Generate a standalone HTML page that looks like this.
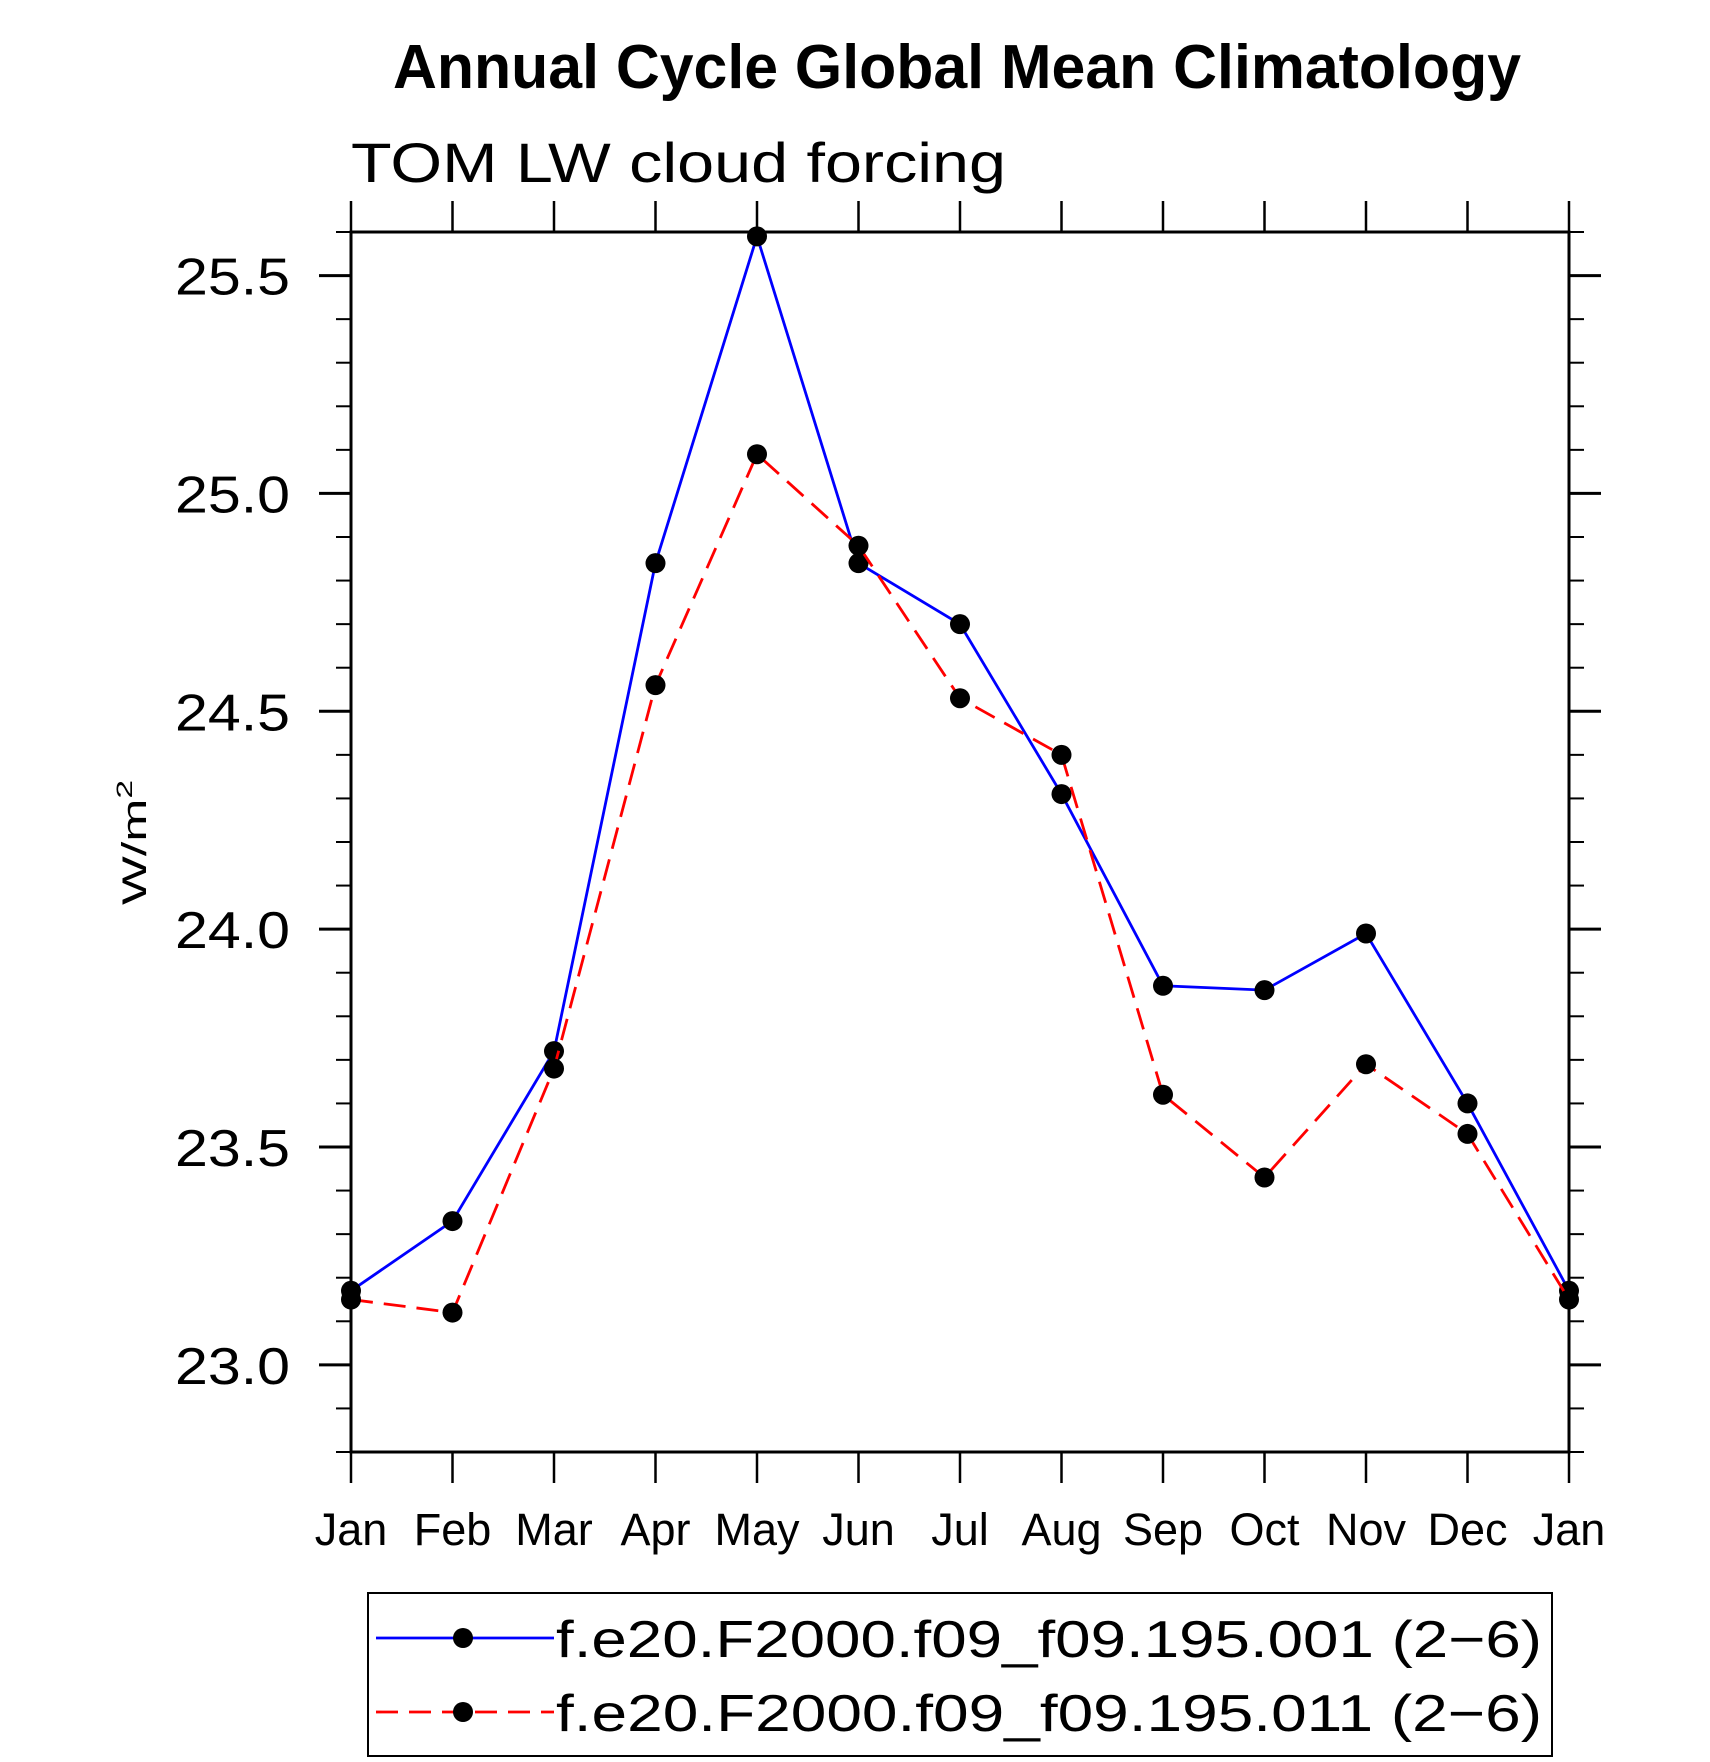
<!DOCTYPE html>
<html><head><meta charset="utf-8"><style>
html,body{margin:0;padding:0;background:#fff;}
svg{display:block;font-family:"Liberation Sans",sans-serif;}
</style></head><body>
<svg id="chart" width="1710" height="1762" viewBox="0 0 1710 1762">
<text x="393" y="88" font-size="62" font-weight="bold" textLength="1128" lengthAdjust="spacingAndGlyphs">Annual Cycle Global Mean Climatology</text>
<text x="351" y="182" font-size="56" textLength="655" lengthAdjust="spacingAndGlyphs">TOM LW cloud forcing</text>
<text transform="translate(146,905) rotate(-90)" font-size="34" textLength="125" lengthAdjust="spacingAndGlyphs">W/m<tspan font-size="22" dy="-14">2</tspan></text>
<g id="axes"></g>
<g id="series"></g>
<rect x="368" y="1593" width="1184" height="163" fill="none" stroke="#000" stroke-width="2"/>
<g id="legend"></g>
</svg>
<script>
const months = ["Jan","Feb","Mar","Apr","May","Jun","Jul","Aug","Sep","Oct","Nov","Dec","Jan"];
const seriesA = [23.17,23.33,23.72,24.84,25.59,24.84,24.70,24.31,23.87,23.86,23.99,23.60,23.17];
const seriesB = [23.15,23.12,23.68,24.56,25.09,24.88,24.53,24.40,23.62,23.43,23.69,23.53,23.15];
const yTicks = [23.0,23.5,24.0,24.5,25.0,25.5];
const yTickLabels = ["23.0","23.5","24.0","24.5","25.0","25.5"];
const seriesNames = ["f.e20.F2000.f09_f09.195.001 (2\u22126)","f.e20.F2000.f09_f09.195.011 (2\u22126)"];

const NS="http://www.w3.org/2000/svg";
const L=351,R=1569,T=232,B=1452,YMIN=22.8,YMAX=25.6;
const x=i=>L+(R-L)*i/(months.length-1);
const y=v=>B-(B-T)*(v-YMIN)/(YMAX-YMIN);
function mk(tag,attrs,parent){const e=document.createElementNS(NS,tag);for(const k in attrs)e.setAttribute(k,attrs[k]);parent.appendChild(e);return e;}
const ax=document.getElementById('axes');
const frame=mk('rect',{x:L,y:T,width:R-L,height:B-T,fill:'none',stroke:'#000','stroke-width':3},ax);


months.forEach((m,i)=>{
  const t1=mk('line',{x1:x(i),x2:x(i),y1:B,y2:B+31,stroke:'#000','stroke-width':2.5},ax);
  
  
  const t2=mk('line',{x1:x(i),x2:x(i),y1:T-31,y2:T,stroke:'#000','stroke-width':2.5},ax);
  
  
  const tx=mk('text',{x:x(i),y:1545,'font-size':45,'text-anchor':'middle'},ax);
  tx.textContent=m;
  
  
});
for(let k=0;k<=28;k++){
  const v=YMIN+k*0.1, major=(k%5===2);
  const len=major?32:15;
  const a=mk('line',{x1:L-len,x2:L,y1:y(v),y2:y(v),stroke:'#000','stroke-width':major?3:2},ax);
  
  
  const b=mk('line',{x1:R,x2:R+len,y1:y(v),y2:y(v),stroke:'#000','stroke-width':major?3:2},ax);
  
  
}
yTicks.forEach((v,i)=>{
  const tx=mk('text',{x:290,y:y(v)+19,'font-size':52,'text-anchor':'end',textLength:115,lengthAdjust:'spacingAndGlyphs'},ax);
  tx.textContent=yTickLabels[i];
  
  
});
const sg=document.getElementById('series');
[[seriesA,'#0000ff',null,'series-001'],[seriesB,'#ff0000','22 11','series-011']].forEach(([d,c,dash,nm])=>{
  const p=mk('polyline',{points:d.map((v,i)=>x(i)+','+y(v)).join(' '),fill:'none',stroke:c,'stroke-width':2.8},sg);
  if(dash)p.setAttribute('stroke-dasharray',dash);
  
  
  d.forEach((v,i)=>{
    const cc=mk('circle',{cx:x(i),cy:y(v),r:10,fill:'#000'},sg);
    
    
  });
});
const lg=document.getElementById('legend');
[[1638,'#0000ff',null],[1712,'#ff0000','22 11']].forEach(([yy,c,dash],i)=>{
  const ln=mk('line',{x1:376,x2:554,y1:yy,y2:yy,stroke:c,'stroke-width':2.8},lg);
  if(dash)ln.setAttribute('stroke-dasharray',dash);
  
  
  const d=mk('circle',{cx:463,cy:yy,r:10,fill:'#000'},lg);
  
  
  const t=mk('text',{x:556,y:yy+19,'font-size':52,textLength:986,lengthAdjust:'spacingAndGlyphs'},lg);
  t.textContent=seriesNames[i];
  
  
});
</script>
</body></html>
